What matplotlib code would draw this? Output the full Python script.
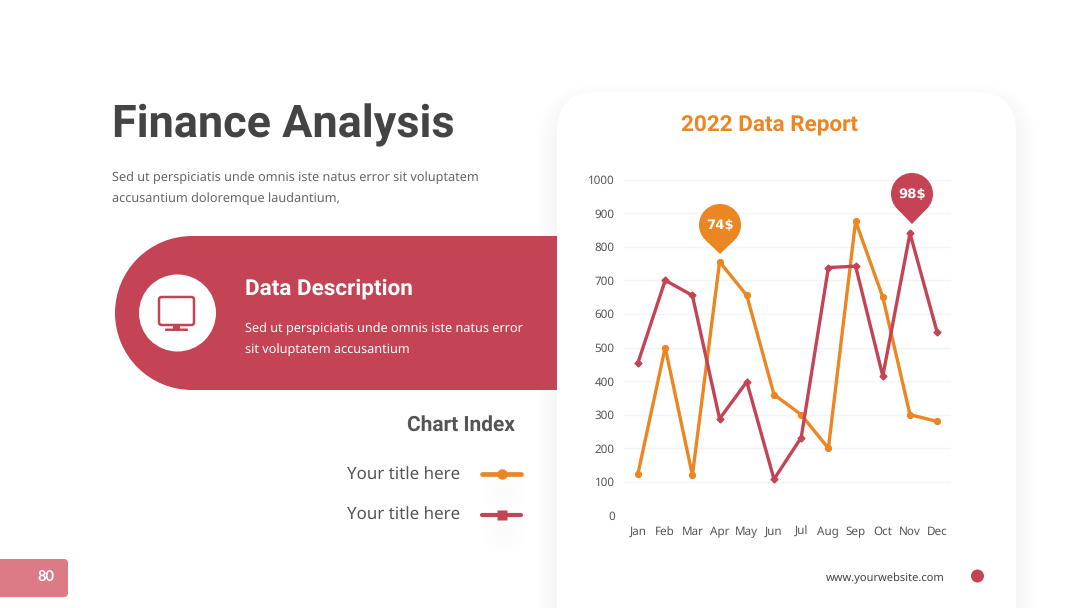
import matplotlib
matplotlib.use('Agg')
import matplotlib.pyplot as plt
from matplotlib.patches import Circle, FancyBboxPatch, PathPatch, Rectangle
from matplotlib.path import Path

plt.rcParams['text.hinting'] = 'no_hinting'

# chart values
months = ['Jan', 'Feb', 'Mar', 'Apr', 'May', 'Jun', 'Jul', 'Aug', 'Sep', 'Oct', 'Nov', 'Dec']
orange_values = [125, 500, 120, 755, 655, 360, 300, 200, 876, 650, 300, 280]
red_values = [455, 700, 655, 288, 398, 108, 232, 738, 742, 415, 840, 545]
y_ticks = [0, 100, 200, 300, 400, 500, 600, 700, 800, 900, 1000]

ORANGE = '#EC8623'
RED = '#C44455'
DARK = '#444444'
GREY = '#666666'
BODY_FONT = 'Noto Sans'
HEAD_FONT = 'Roboto'

W, H = 1080, 608
fig = plt.figure(figsize=(W / 100, H / 100), dpi=100, facecolor='white')

# whole slide axes in pixel coordinates
bg = fig.add_axes([0, 0, 1, 1], zorder=0)
bg.set_xlim(0, W)
bg.set_ylim(H, 0)
bg.axis('off')


def rounded(x, y, w, h, r, **kw):
    return FancyBboxPatch((x + r, y + r), w - 2 * r, h - 2 * r,
                          boxstyle='round,pad=%f,rounding_size=%f' % (r, r), **kw)


# card shadow: opaque steps from white to light grey, pushed down a little
for i, level in enumerate(range(254, 245, -1)):
    grow = 20 - 2.2 * i
    c = '#%02x%02x%02x' % (level, level, level)
    bg.add_patch(rounded(557 - grow, 104 - grow, 459 + 2 * grow, 600, 40 + grow, fc=c, ec='none'))
bg.add_patch(rounded(557, 92, 459, 600, 40, fc='white', ec='none'))

# faint shadows under the legend keys
for cy in [492, 532]:
    for i, level in enumerate(range(254, 250, -1)):
        c = '#%02x%02x%02x' % (level, level, level)
        bg.add_patch(Circle((504, cy), 22 - 5 * i, fc=c, ec='none'))

# heading
bg.text(112, 125, 'Finance Analysis', fontsize=32.4, fontweight='bold', family=HEAD_FONT,
        color=DARK, va='center', ha='left')
bg.text(112, 177.5, 'Sed ut perspiciatis unde omnis iste natus error sit voluptatem',
        fontsize=9.15, family=BODY_FONT, color=GREY, va='center')
bg.text(112, 198.5, 'accusantium doloremque laudantium,',
        fontsize=9.15, family=BODY_FONT, color=GREY, va='center')

# red pill
bg.add_patch(Rectangle((192, 236), 365, 154, fc=RED, ec='none'))
bg.add_patch(Circle((192, 313), 77, fc=RED, ec='none'))
bg.add_patch(Circle((177.5, 313), 38.5, fc='white', ec='none'))
# monitor icon
bg.add_patch(rounded(159, 297, 35, 28, 2.5, fc='none', ec=RED, lw=1.8))
bg.add_patch(Rectangle((173, 325), 7, 4, fc=RED, ec='none'))
bg.add_patch(rounded(165, 328.5, 23, 2.5, 1, fc=RED, ec='none'))
bg.text(245, 289, 'Data Description', fontsize=16.2, fontweight='bold', family=HEAD_FONT,
        color='white', va='center')
bg.text(245, 329, 'Sed ut perspiciatis unde omnis iste natus error',
        fontsize=9.15, family=BODY_FONT, color='white', va='center')
bg.text(245, 350, 'sit voluptatem accusantium',
        fontsize=9.15, family=BODY_FONT, color='white', va='center')

# chart index
bg.text(515, 425.5, 'Chart Index', fontsize=15, fontweight='bold', family=HEAD_FONT,
        color='#555555', va='center', ha='right')
bg.text(460, 475, 'Your title here', fontsize=12.2, family=BODY_FONT, color='#555555',
        va='center', ha='right')
bg.text(460, 515, 'Your title here', fontsize=12.2, family=BODY_FONT, color='#555555',
        va='center', ha='right')
bg.plot([482, 521], [474, 474], color=ORANGE, lw=3.4, solid_capstyle='round')
bg.plot([501.5], [474], marker='o', ms=7.5, color=ORANGE, mec='none')
bg.plot([482, 521], [515, 515], color=RED, lw=3, solid_capstyle='round')
bg.plot([501.5], [515], marker='s', ms=7, color=RED, mec='none')

# page tab
bg.add_patch(Rectangle((0, 559), 20, 38, fc='#DC7A86', ec='none'))
bg.add_patch(rounded(0, 559, 68, 38, 4, fc='#DC7A86', ec='none'))
bg.text(46, 577.5, '80', fontsize=10.5, fontweight='bold', family='Lato', color='white',
        va='center', ha='center')

# card texts
bg.text(769.5, 126, '2022 Data Report', fontsize=16.2, fontweight='bold', family=HEAD_FONT,
        color=ORANGE, va='center', ha='center')
bg.text(885, 578, 'www.yourwebsite.com', fontsize=8, family=BODY_FONT, color=DARK,
        va='center', ha='center')
bg.add_patch(Circle((977.5, 576), 6.5, fc=RED, ec='none'))

# line chart
left, right, top, bottom = 624.4, 950.8, 179.5, 515.5
ax = fig.add_axes([left / W, 1 - bottom / H, (right - left) / W, (bottom - top) / H], zorder=1)
ax.patch.set_alpha(0)
ax.plot(months, orange_values, color=ORANGE, lw=2.4, marker='o', ms=4.2, clip_on=False)
ax.plot(months, red_values, color=RED, lw=2.4, marker='D', ms=3.5, clip_on=False)
ax.set_xlim(-0.5, 11.5)
ax.set_ylim(0, 1000)
ax.set_yticks(y_ticks)
ax.grid(axis='y', color='#F3F3F3', lw=1)
ax.set_axisbelow(True)
for s in ax.spines.values():
    s.set_visible(False)
ax.tick_params(length=0, labelsize=8.4, labelcolor='#555555')
ax.tick_params(axis='x', pad=14)
ax.tick_params(axis='y', pad=7)
for lab in ax.get_xticklabels() + ax.get_yticklabels():
    lab.set_family(BODY_FONT)
for lab in ax.get_xticklabels():
    lab.set_verticalalignment('baseline')

# value pins
fg = fig.add_axes([0, 0, 1, 1], zorder=2)
fg.set_xlim(0, W)
fg.set_ylim(H, 0)
fg.axis('off')


def pin(cx, cy, r, tip_y, color, label):
    fg.add_patch(Circle((cx, cy), r, fc=color, ec='none'))
    verts = [(cx - r * 0.69, cy + r * 0.72), (cx, tip_y), (cx + r * 0.69, cy + r * 0.72), (cx, cy)]
    codes = [Path.MOVETO, Path.LINETO, Path.LINETO, Path.CLOSEPOLY]
    fg.add_patch(PathPatch(Path(verts, codes), fc=color, ec='none'))
    fg.text(cx, cy + 0.5, label, fontsize=9.5, fontweight='bold', family='DejaVu Sans',
            color='white', ha='center', va='center')


pin(720, 225, 21, 254, ORANGE, '74$')
pin(912, 194, 21, 224, RED, '98$')

fig.savefig('out.png', dpi=100)
